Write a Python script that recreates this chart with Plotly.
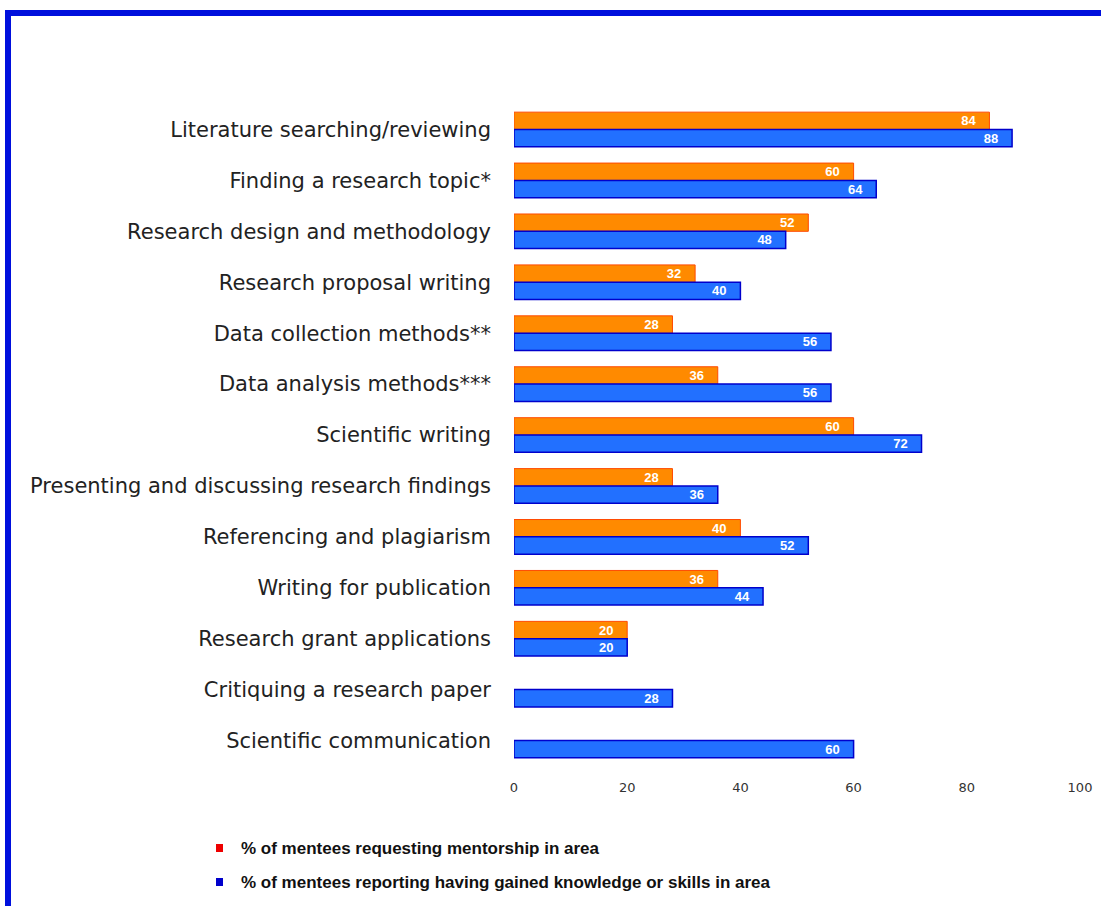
import plotly.graph_objects as go

categories = [
    "Literature searching/reviewing",
    "Finding a research topic*",
    "Research design and methodology",
    "Research proposal writing",
    "Data collection methods**",
    "Data analysis methods***",
    "Scientific writing",
    "Presenting and discussing research findings",
    "Referencing and plagiarism",
    "Writing for publication",
    "Research grant applications",
    "Critiquing a research paper",
    "Scientific communication",
]
requesting = [84, 60, 52, 32, 28, 36, 60, 28, 40, 36, 20, None, None]
gained = [88, 64, 48, 40, 56, 56, 72, 36, 52, 44, 20, 28, 60]
x_ticks = [0, 20, 40, 60, 80, 100]
legend_labels = [
    "% of mentees requesting mentorship in area",
    "% of mentees reporting having gained knowledge or skills in area",
]

W, H = 1101, 906
L, R, T, B = 514, 21, 104, 140
PW, PH = W - L - R, H - T - B

def px(x):
    return (x - L) / PW

def py(y):
    return 1 - (y - T) / PH

fig = go.Figure()
fig.add_trace(go.Bar(
    y=categories, x=requesting, orientation="h", name=legend_labels[0],
    marker=dict(color="#FF8A00", line=dict(color="#FF4A00", width=1)),
    text=[f"{v}   " if v is not None else "" for v in requesting],
    textposition="inside", insidetextanchor="end",
    textfont=dict(family="Liberation Sans", size=13, color="white", weight="bold"),
    cliponaxis=False,
))
fig.add_trace(go.Bar(
    y=categories, x=gained, orientation="h", name=legend_labels[1],
    marker=dict(color="#2270FF", line=dict(color="#0000CC", width=1.5)),
    text=[f"{v}   " for v in gained],
    textposition="inside", insidetextanchor="end",
    textfont=dict(family="Liberation Sans", size=13, color="white", weight="bold"),
    cliponaxis=False,
))

fig.update_layout(
    width=W, height=H,
    margin=dict(l=L, r=R, t=T, b=B, autoexpand=False),
    paper_bgcolor="white", plot_bgcolor="white",
    barmode="group", bargap=0.32, bargroupgap=0.0,
    showlegend=False,
    uniformtext=dict(minsize=12, mode="show"),
    xaxis=dict(range=[0, 100], tickvals=x_ticks, showgrid=False, zeroline=False,
               showline=False, ticks="", ticklabelstandoff=12,
               tickfont=dict(family="DejaVu Sans", size=13, color="#333333")),
    yaxis=dict(autorange="reversed", showgrid=False, zeroline=False, showline=False,
               ticks="", ticklabelstandoff=22,
               tickfont=dict(family="DejaVu Sans", size=21, color="#222222")),
)

# Frame border (top and left)
border = "#0010DD"
fig.add_shape(type="line", xref="paper", yref="paper",
              x0=px(8), x1=px(1101), y0=py(13), y1=py(13),
              line=dict(color=border, width=6))
fig.add_shape(type="line", xref="paper", yref="paper",
              x0=px(8), x1=px(8), y0=py(10), y1=py(906),
              line=dict(color=border, width=6))

# Legend
leg_colors = ["#EE0000", "#0000CC"]
leg_y = [848, 882]
for lab, col, yy in zip(legend_labels, leg_colors, leg_y):
    fig.add_shape(type="rect", xref="paper", yref="paper",
                  x0=px(216), x1=px(223), y0=py(yy - 4), y1=py(yy + 4),
                  fillcolor=col, line=dict(width=0))
    fig.add_annotation(xref="paper", yref="paper", x=px(239), y=py(yy),
                       text=lab, showarrow=False, xanchor="left", yanchor="middle",
                       font=dict(family="Liberation Sans", size=17, color="#111111", weight="bold"))

fig.write_html("out.html")
